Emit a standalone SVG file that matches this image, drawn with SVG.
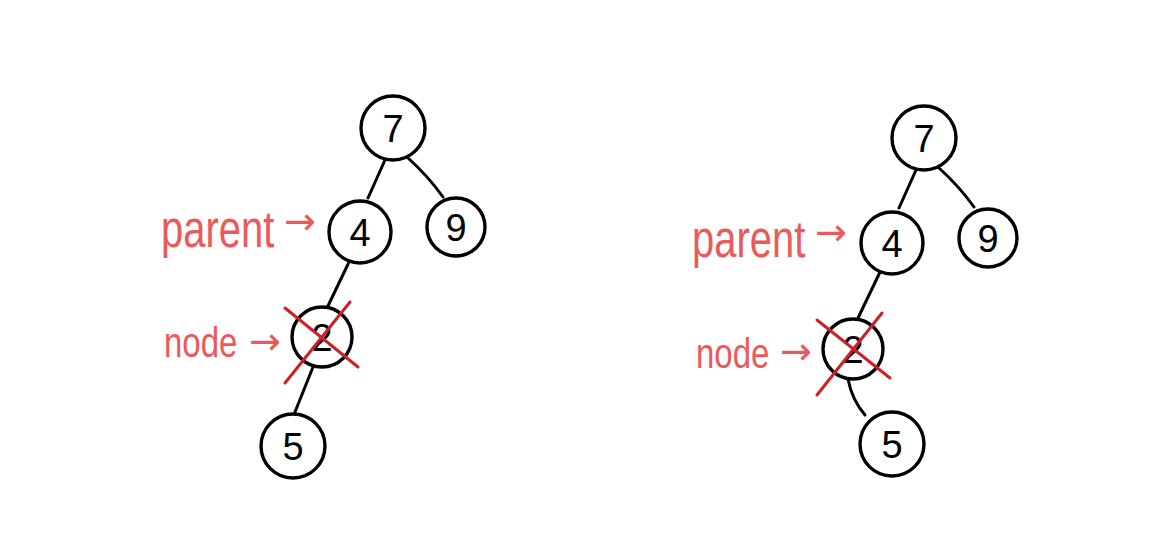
<svg xmlns="http://www.w3.org/2000/svg" width="1172" height="539" viewBox="0 0 1172 539">
<style>
.node circle{fill:#fff;stroke:#000;stroke-width:3.4}
.node text{font-family:"Liberation Sans",Arial,sans-serif;font-size:38px;fill:#000;text-anchor:middle}
.edge{fill:none;stroke:#000;stroke-width:3;stroke-linecap:round}
.lbl{font-family:"Liberation Sans",Arial,sans-serif;fill:#ea5a5c}
.arr{font-family:"DejaVu Sans",sans-serif;fill:#ea5a5c;font-size:38px}
.cross{stroke:#d01f28;stroke-width:3;stroke-linecap:round}
</style>
<rect width="1172" height="539" fill="#fff"/>
<g id="connectors">
<path class="edge" d="M385,160 L368,198"/>
<path class="edge" d="M408,158 Q428,176 443,197"/>
<path class="edge" d="M350,260 L327,308"/>
<path class="edge" d="M313,367 L295,412"/>
<path class="edge" d="M916,170 L899,208"/>
<path class="edge" d="M939,168 Q959,186 974,207"/>
<path class="edge" d="M881,270 L858,318"/>
<path class="edge" d="M848,379 Q852,400 865,415"/>
</g>
<g id="L7" class="node"><circle cx="393" cy="128" r="32"/><text x="393" y="142">7</text></g>
<g id="L4" class="node"><circle cx="360" cy="232" r="31"/><text x="360" y="246">4</text></g>
<g id="L9" class="node"><circle cx="456" cy="227" r="29"/><text x="456" y="241">9</text></g>
<g id="L2" class="node"><circle cx="322" cy="337" r="30"/><text x="322" y="351">2</text></g>
<g id="L5" class="node"><circle cx="293" cy="446" r="32"/><text x="293" y="460">5</text></g>
<g id="R7" class="node"><circle cx="924" cy="138" r="32"/><text x="924" y="152">7</text></g>
<g id="R4" class="node"><circle cx="892" cy="243" r="31"/><text x="892" y="257">4</text></g>
<g id="R9" class="node"><circle cx="988" cy="238" r="29"/><text x="988" y="252">9</text></g>
<g id="R2" class="node"><circle cx="853" cy="349" r="30"/><text x="853" y="363">2</text></g>
<g id="R5" class="node"><circle cx="892" cy="444" r="32"/><text x="892" y="458">5</text></g>
<g id="Lcross">
<line class="cross" x1="285" y1="308" x2="358" y2="367"/>
<line class="cross" x1="350" y1="302" x2="285" y2="383"/>
</g>
<g id="Rcross">
<line class="cross" x1="817" y1="320" x2="890" y2="378"/>
<line class="cross" x1="882" y1="313" x2="817" y2="395"/>
</g>
<g id="Lparent">
<text class="lbl" transform="translate(161,247) scale(1,1.3)" font-size="40">parent</text>
<text class="arr" x="284" y="234">→</text>
</g>
<g id="Lnode">
<text class="lbl" transform="translate(164,357) scale(1,1.3)" font-size="33">node</text>
<text class="arr" x="249" y="354">→</text>
</g>
<g id="Rparent">
<text class="lbl" transform="translate(692,257) scale(1,1.3)" font-size="40">parent</text>
<text class="arr" x="815" y="245">→</text>
</g>
<g id="Rnode">
<text class="lbl" transform="translate(696,368) scale(1,1.3)" font-size="33">node</text>
<text class="arr" x="780" y="364">→</text>
</g>
</svg>
